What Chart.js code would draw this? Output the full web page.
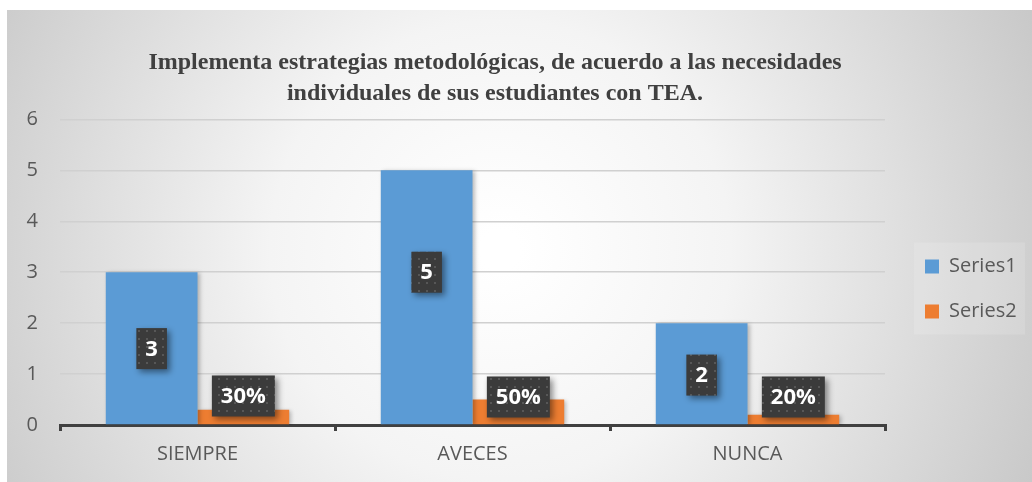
<!DOCTYPE html>
<html>
<head>
<meta charset="utf-8">
<script src="https://cdn.jsdelivr.net/npm/chart.js@4/dist/chart.umd.min.js"></script>
<style>
  html, body { margin: 0; padding: 0; background: #fff; }
  #wrap { width: 1032px; height: 482px; }
</style>
</head>
<body>
<div id="wrap"><canvas id="chart"></canvas></div>
<script>
const categories = ['SIEMPRE', 'AVECES', 'NUNCA'];
const seriesNames = ['Series1', 'Series2'];
const series1 = [3, 5, 2];
const series2 = [0.3, 0.5, 0.2];
const yMax = 6;
const titleLines = [
    'Implementa estrategias metodológicas, de acuerdo a las necesidades',
    'individuales de sus estudiantes con TEA.'
];

// gray radial backdrop like the office chart area
const backdrop = {
    id: 'backdrop',
    beforeDraw(chart) {
        const ctx = chart.ctx;
        const w = chart.width, h = chart.height;
        ctx.save();
        ctx.fillStyle = '#ffffff';
        ctx.fillRect(0, 0, w, h);
        const g = ctx.createRadialGradient(500, 250, 20, 500, 250, 620);
        g.addColorStop(0, '#ffffff');
        g.addColorStop(0.35, '#f4f4f4');
        g.addColorStop(1, '#c4c4c4');
        ctx.fillStyle = g;
        ctx.fillRect(7, 10, w - 7, h - 10);
        // faint panel behind the legend
        const lg = chart.legend;
        if (lg && lg.legendHitBoxes && lg.legendHitBoxes.length) {
            const boxes = lg.legendHitBoxes;
            const top = boxes[0].top - 14;
            const last = boxes[boxes.length - 1];
            const bottom = last.top + last.height + 13;
            ctx.fillStyle = 'rgba(255,255,255,0.14)';
            ctx.fillRect(914, top, 111, bottom - top);
        }
        ctx.restore();
    }
};

// nudge title / legend boxes into place
const boxTweak = {
    id: 'boxTweak',
    afterInit(chart) {
        const legend = chart.legend;
        const fit = legend.fit;
        legend.fit = function () {
            fit.call(this);
            this.width = 147;
        };
    },
    afterLayout(chart) {
        chart.titleBlock.left -= 21;
        chart.titleBlock.right -= 21;
        chart.legend.left += 15;
        chart.legend.right += 15;
        chart.legend.top += 48;
        chart.legend.bottom += 48;
    }
};

const barShadow = {
    id: 'barShadow',
    beforeDatasetsDraw(chart) {
        const ctx = chart.ctx;
        ctx.save();
        ctx.shadowColor = 'rgba(0,0,0,0.25)';
        ctx.shadowBlur = 4;
        ctx.shadowOffsetX = 2;
        ctx.shadowOffsetY = 1;
    },
    afterDatasetsDraw(chart) {
        chart.ctx.restore();
    }
};

function dottedPattern(ctx) {
    const c = document.createElement('canvas');
    c.width = 8; c.height = 8;
    const p = c.getContext('2d');
    p.fillStyle = '#3b3b3b';
    p.fillRect(0, 0, 8, 8);
    p.fillStyle = '#575757';
    p.fillRect(2, 2, 2, 2);
    return ctx.createPattern(c, 'repeat');
}

// dark label boxes; anchors are y values (data units) where each label sits
const valueBoxes = {
    id: 'valueBoxes',
    afterDatasetsDraw(chart, args, opts) {
        const ctx = chart.ctx;
        const yScale = chart.scales.y;
        const pattern = dottedPattern(ctx);
        ctx.save();
        ctx.font = 'bold 22px "Open Sans"';
        ctx.textAlign = 'center';
        ctx.textBaseline = 'middle';
        chart.data.datasets.forEach((ds, di) => {
            const meta = chart.getDatasetMeta(di);
            meta.data.forEach((bar, i) => {
                const v = ds.data[i];
                const text = di === 0 ? String(v) : Math.round(v * 100) + '%';
                const cx = bar.x;
                const cy = yScale.getPixelForValue(opts.anchors[di][i]);
                const tw = ctx.measureText(text).width;
                const bw = tw + 18, bh = 41;
                ctx.save();
                ctx.shadowColor = 'rgba(0,0,0,0.45)';
                ctx.shadowBlur = 6;
                ctx.shadowOffsetX = 3;
                ctx.shadowOffsetY = 3;
                ctx.fillStyle = pattern;
                ctx.fillRect(cx - bw / 2, cy - bh / 2, bw, bh);
                ctx.restore();
                ctx.fillStyle = '#ffffff';
                ctx.fillText(text, cx, cy + 1);
            });
        });
        ctx.restore();
    }
};

new Chart(document.getElementById('chart'), {
    type: 'bar',
    data: {
        labels: categories,
        datasets: [{
            label: seriesNames[0],
            data: series1,
            backgroundColor: '#5b9bd5',
            categoryPercentage: 0.667,
            barPercentage: 1
        }, {
            label: seriesNames[1],
            data: series2,
            backgroundColor: '#ed7d31',
            categoryPercentage: 0.667,
            barPercentage: 1
        }]
    },
    plugins: [backdrop, boxTweak, barShadow, valueBoxes],
    options: {
        responsive: true,
        maintainAspectRatio: false,
        animation: false,
        layout: { padding: 0 },
        plugins: {
            title: {
                display: true,
                text: titleLines,
                color: '#404040',
                font: { family: '"Liberation Serif"', size: 24, weight: 'bold', lineHeight: 1.3 },
                padding: { top: 47, bottom: 10 }
            },
            legend: {
                position: 'right',
                labels: {
                    boxWidth: 14,
                    boxHeight: 14,
                    padding: 25,
                    color: '#595959',
                    font: { family: '"Open Sans"', size: 20 }
                }
            },
            tooltip: { enabled: false },
            valueBoxes: {
                anchors: [[1.5, 3.0, 0.98], [0.57, 0.55, 0.55]]
            }
        },
        scales: {
            x: {
                afterFit(scale) { scale.height = 57; },
                grid: {
                    display: true,
                    drawOnChartArea: false,
                    drawTicks: true,
                    tickLength: 6,
                    color: '#404040',
                    lineWidth: 3
                },
                border: { display: true, color: '#404040', width: 3 },
                ticks: {
                    color: '#595959',
                    padding: 11,
                    font: { family: '"Open Sans"', size: 20 }
                }
            },
            y: {
                min: 0,
                max: yMax,
                afterFit(scale) { scale.width = 60; },
                grid: { color: '#d0d0d0', lineWidth: 1.5, drawTicks: false },
                border: { display: false },
                ticks: {
                    stepSize: 1,
                    padding: 22,
                    color: '#595959',
                    font: { family: '"Open Sans"', size: 20 }
                }
            }
        }
    }
});
</script>
</body>
</html>
